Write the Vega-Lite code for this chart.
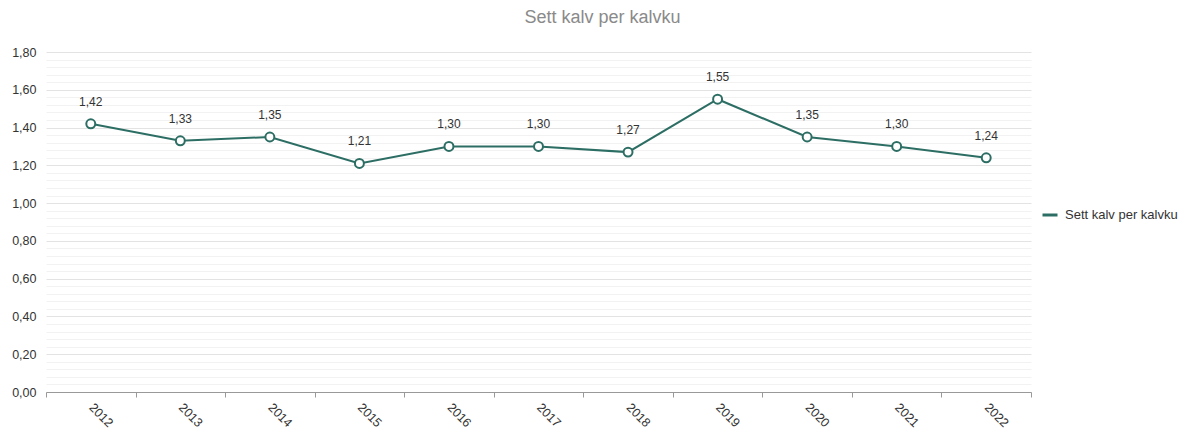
{
  "$schema": "https://vega.github.io/schema/vega-lite/v6.json",
  "width": 985,
  "height": 340,
  "autosize": {"type": "none"},
  "padding": {"left": 46, "top": 52, "right": 152, "bottom": 38},
  "config": {
    "font": "Liberation Sans",
    "view": {"stroke": null},
    "locale": {
      "number": {"decimal": ",", "thousands": " ", "grouping": [3], "currency": ["", " kr"]}
    }
  },
  "title": {
    "text": "Sett kalv per kalvku",
    "fontSize": 18,
    "fontWeight": "normal",
    "color": "#8a8a8a",
    "anchor": "middle",
    "dx": 64,
    "offset": 19
  },
  "data": {
    "values": [
      {"year": "2012", "value": 1.42, "serie": "Sett kalv per kalvku"},
      {"year": "2013", "value": 1.33, "serie": "Sett kalv per kalvku"},
      {"year": "2014", "value": 1.35, "serie": "Sett kalv per kalvku"},
      {"year": "2015", "value": 1.21, "serie": "Sett kalv per kalvku"},
      {"year": "2016", "value": 1.30, "serie": "Sett kalv per kalvku"},
      {"year": "2017", "value": 1.30, "serie": "Sett kalv per kalvku"},
      {"year": "2018", "value": 1.27, "serie": "Sett kalv per kalvku"},
      {"year": "2019", "value": 1.55, "serie": "Sett kalv per kalvku"},
      {"year": "2020", "value": 1.35, "serie": "Sett kalv per kalvku"},
      {"year": "2021", "value": 1.30, "serie": "Sett kalv per kalvku"},
      {"year": "2022", "value": 1.24, "serie": "Sett kalv per kalvku"}
    ]
  },
  "encoding": {
    "x": {
      "field": "year",
      "type": "ordinal",
      "scale": {"type": "band", "paddingInner": 0, "paddingOuter": 0},
      "axis": {
        "title": null,
        "labelAngle": 45,
        "labelAlign": "left",
        "labelBaseline": "middle",
        "labelFontSize": 12.5,
        "labelColor": "#333333",
        "labelPadding": 8,
        "tickBand": "extent",
        "tickColor": "#999999",
        "tickSize": 5,
        "domainColor": "#999999",
        "grid": false
      }
    },
    "y": {
      "field": "value",
      "type": "quantitative",
      "scale": {"domain": [0, 1.8], "nice": false, "zero": true},
      "axis": {
        "title": null,
        "values": [0,0.04,0.08,0.12,0.16,0.2,0.24,0.28,0.32,0.36,0.4,0.44,0.48,0.52,0.56,0.6,0.64,0.68,0.72,0.76,0.8,0.84,0.88,0.92,0.96,1,1.04,1.08,1.12,1.16,1.2,1.24,1.28,1.32,1.36,1.4,1.44,1.48,1.52,1.56,1.6,1.64,1.68,1.72,1.76,1.8],
        "labelExpr": "round(datum.value*100) % 20 == 0 ? replace(format(datum.value, '.2f'), '.', ',') : ''",
        "labelFontSize": 12.5,
        "labelColor": "#333333",
        "labelPadding": 10,
        "ticks": false,
        "domain": false,
        "grid": true,
        "gridColor": {"condition": {"test": "round(datum.value*100) % 20 == 0", "value": "#e3e3e3"}, "value": "#f2f2f2"},
        "gridWidth": 1
      }
    }
  },
  "layer": [
    {
      "mark": {"type": "line", "strokeWidth": 2},
      "encoding": {
        "color": {
          "field": "serie",
          "type": "nominal",
          "scale": {"range": ["#2d6e64"]},
          "legend": {
            "title": null,
            "orient": "none",
            "legendX": 995,
            "legendY": 154,
            "symbolType": "stroke",
            "symbolStrokeWidth": 3,
            "symbolSize": 225,
            "labelFontSize": 13,
            "labelColor": "#333333",
            "labelOffset": 6,
            "labelLimit": 200
          }
        }
      }
    },
    {
      "mark": {"type": "point", "filled": true, "fill": "white", "stroke": "#2d6e64", "strokeWidth": 2, "size": 80, "opacity": 1}
    },
    {
      "mark": {"type": "text", "dy": -22, "fontSize": 12, "color": "#333333"},
      "encoding": {
        "text": {"field": "value", "type": "quantitative", "format": ".2f"}
      }
    }
  ]
}
